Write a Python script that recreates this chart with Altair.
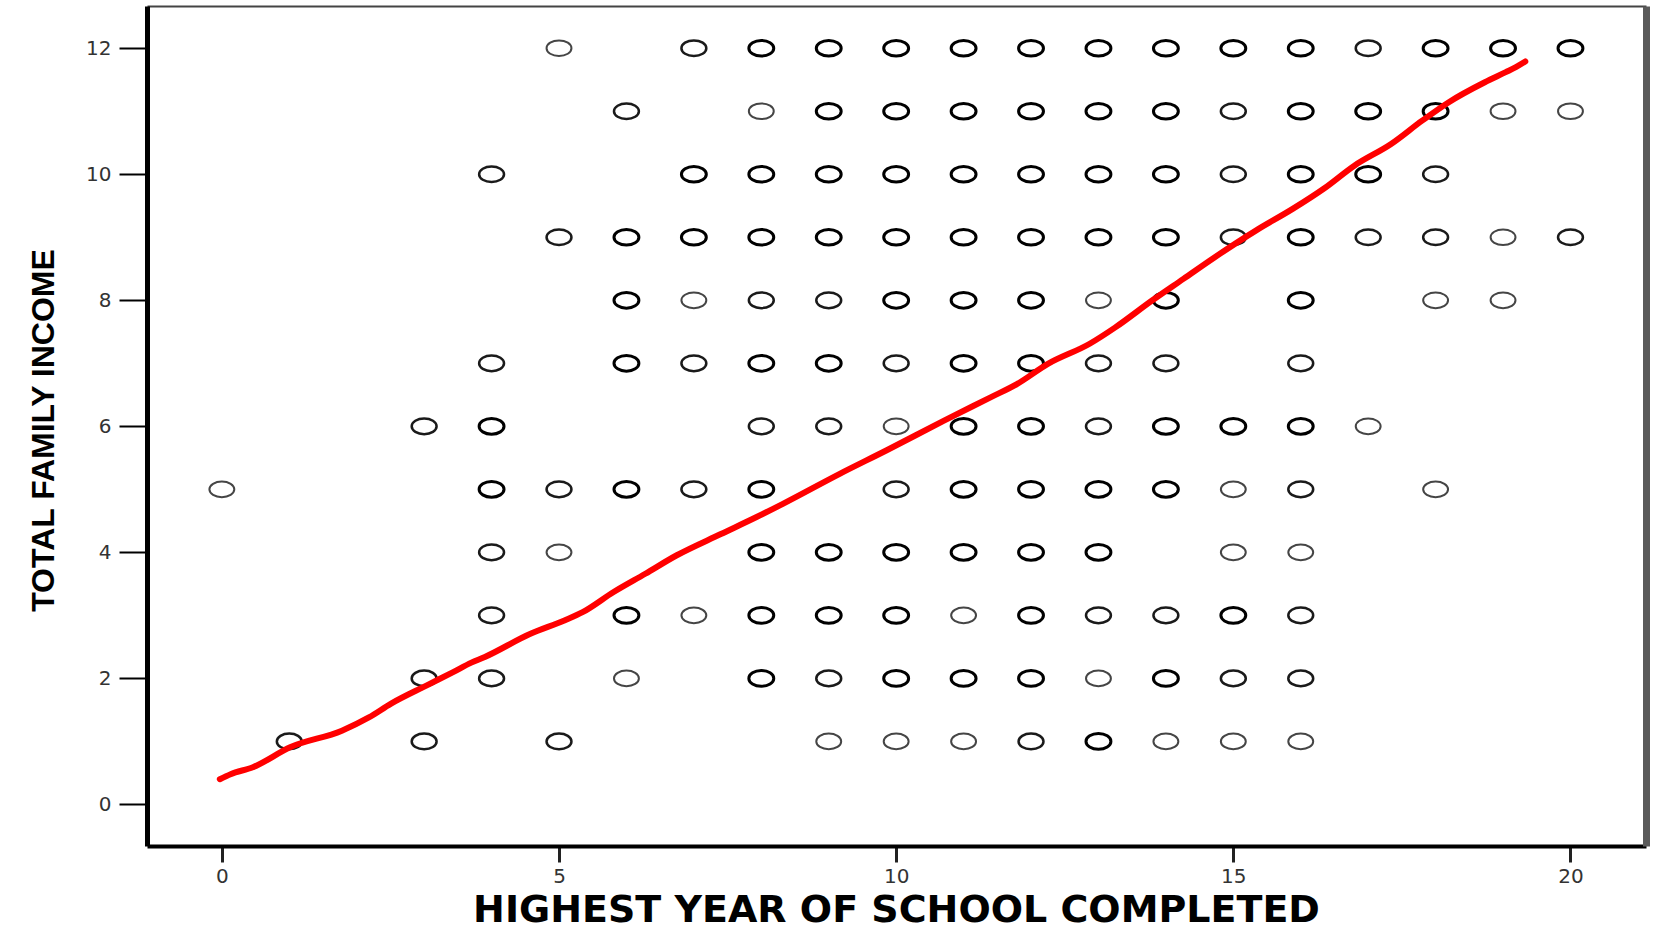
import altair as alt
import pandas as pd

# ---- scatter data: years of school (x) for each income level, and overplot weight (1 light, 2 medium, 3 bold)
income_12_years = [5, 7, 8, 9, 10, 11, 12, 13, 14, 15, 16, 17, 18, 19, 20]
income_12_weights = [1, 2, 3, 3, 3, 3, 3, 3, 3, 3, 3, 2, 3, 3, 3]
income_11_years = [6, 8, 9, 10, 11, 12, 13, 14, 15, 16, 17, 18, 19, 20]
income_11_weights = [2, 1, 3, 3, 3, 3, 3, 3, 2, 3, 3, 3, 1, 1]
income_10_years = [4, 7, 8, 9, 10, 11, 12, 13, 14, 15, 16, 17, 18]
income_10_weights = [2, 3, 3, 3, 3, 3, 3, 3, 3, 2, 3, 3, 2]
income_9_years = [5, 6, 7, 8, 9, 10, 11, 12, 13, 14, 15, 16, 17, 18, 19, 20]
income_9_weights = [2, 3, 3, 3, 3, 3, 3, 3, 3, 3, 2, 3, 2, 2, 1, 2]
income_8_years = [6, 7, 8, 9, 10, 11, 12, 13, 14, 16, 18, 19]
income_8_weights = [3, 1, 2, 2, 3, 3, 3, 1, 3, 3, 1, 1]
income_7_years = [4, 6, 7, 8, 9, 10, 11, 12, 13, 14, 16]
income_7_weights = [2, 3, 2, 3, 3, 2, 3, 3, 2, 2, 2]
income_6_years = [3, 4, 8, 9, 10, 11, 12, 13, 14, 15, 16, 17]
income_6_weights = [2, 3, 2, 2, 1, 3, 3, 2, 3, 3, 3, 1]
income_5_years = [0, 4, 5, 6, 7, 8, 10, 11, 12, 13, 14, 15, 16, 18]
income_5_weights = [1, 3, 2, 3, 2, 3, 2, 3, 3, 3, 3, 1, 2, 1]
income_4_years = [4, 5, 8, 9, 10, 11, 12, 13, 15, 16]
income_4_weights = [2, 1, 3, 3, 3, 3, 3, 3, 1, 1]
income_3_years = [4, 6, 7, 8, 9, 10, 11, 12, 13, 14, 15, 16]
income_3_weights = [2, 3, 1, 3, 3, 3, 1, 3, 2, 2, 3, 2]
income_2_years = [3, 4, 6, 8, 9, 10, 11, 12, 13, 14, 15, 16]
income_2_weights = [2, 2, 1, 3, 2, 3, 3, 3, 1, 3, 2, 2]
income_1_years = [1, 3, 5, 9, 10, 11, 12, 13, 14, 15, 16]
income_1_weights = [2, 2, 2, 1, 1, 1, 2, 3, 1, 1, 1]

# ---- red fit line
fit_x = [-0.03, 0.13, 0.46, 1.02, 1.78, 2.18, 2.51, 3.04, 3.43, 3.70, 3.90, 4.56, 5.08,
         5.35, 5.81, 6.28, 6.74, 7.40, 7.93, 8.32, 9.17, 9.86, 10.71, 11.40, 11.79,
         12.25, 12.87, 13.25, 13.80, 14.26, 14.72, 15.34, 15.88, 16.34, 16.80, 17.34,
         17.80, 18.19, 18.73, 19.04, 19.19, 19.33]
fit_y = [0.40, 0.48, 0.59, 0.91, 1.17, 1.38, 1.60, 1.89, 2.10, 2.25, 2.34, 2.70, 2.92,
         3.05, 3.37, 3.66, 3.95, 4.29, 4.56, 4.77, 5.25, 5.62, 6.09, 6.46, 6.67,
         6.99, 7.31, 7.57, 8.00, 8.34, 8.68, 9.11, 9.45, 9.77, 10.14, 10.48,
         10.85, 11.14, 11.46, 11.62, 11.70, 11.79]

x_ticks = [0, 5, 10, 15, 20]
y_ticks = [0, 2, 4, 6, 8, 10, 12]

rows = [
    (12, income_12_years, income_12_weights), (11, income_11_years, income_11_weights),
    (10, income_10_years, income_10_weights), (9, income_9_years, income_9_weights),
    (8, income_8_years, income_8_weights), (7, income_7_years, income_7_weights),
    (6, income_6_years, income_6_weights), (5, income_5_years, income_5_weights),
    (4, income_4_years, income_4_weights), (3, income_3_years, income_3_weights),
    (2, income_2_years, income_2_weights), (1, income_1_years, income_1_weights),
]
records = []
for inc, yrs, wts in rows:
    for xv, wv in zip(yrs, wts):
        records.append({"educ": xv, "income": inc, "weight": wv})
points_df = pd.DataFrame(records)
fit_df = pd.DataFrame({"educ": fit_x, "income": fit_y})

ellipse = ("M -1 0 C -1 -0.348 -0.552 -0.63 0 -0.63 C 0.552 -0.63 1 -0.348 1 0 "
           "C 1 0.348 0.552 0.63 0 0.63 C -0.552 0.63 -1 0.348 -1 0 Z")

x_scale = alt.Scale(domain=[-1.11, 21.12], nice=False, zero=False)
y_scale = alt.Scale(domain=[-0.66, 12.67], nice=False, zero=False)

label_font = "DejaVu Sans"

points = alt.Chart(points_df).mark_point(
    shape=ellipse, size=620, filled=False, opacity=1
).encode(
    x=alt.X("educ:Q", scale=x_scale,
            axis=alt.Axis(values=x_ticks, title="HIGHEST YEAR OF SCHOOL COMPLETED",
                          orient="bottom", grid=False,
                          domainColor="black", domainWidth=4,
                          tickColor="#222", tickWidth=3, tickSize=16,
                          labelFont=label_font, labelFontSize=20, labelColor="#333",
                          labelPadding=4,
                          titleFont="DejaVu Sans", titleFontSize=38, titleFontWeight="bold",
                          titleColor="black", titleBaseline="alphabetic",
                          titleX=749, titleY=75, titleAnchor="middle", titleAlign="center")),
    y=alt.Y("income:Q", scale=y_scale,
            axis=alt.Axis(values=y_ticks, title="TOTAL FAMILY INCOME",
                          orient="left", grid=False,
                          domainColor="black", domainWidth=5,
                          tickColor="black", tickWidth=2, tickSize=28,
                          labelFont=label_font, labelFontSize=20, labelColor="#333",
                          labelPadding=8,
                          titleFont="Liberation Sans", titleFontSize=32,
                          titleFontWeight="bold", titleColor="black",
                          titleBaseline="alphabetic", titleAngle=270,
                          titleX=-94, titleY=424, titleAlign="center")),
    color=alt.Color("weight:O", scale=alt.Scale(domain=[1, 2, 3], range=["#454545", "#1a1a1a", "#000000"]),
                    legend=None),
    strokeWidth=alt.StrokeWidth("weight:O", scale=alt.Scale(domain=[1, 2, 3], range=[2.0, 3.0, 4.2]),
                                legend=None),
)

fit = alt.Chart(fit_df).mark_line(
    color="#ff0000", strokeWidth=6, interpolate="monotone", strokeCap="round"
).encode(
    x=alt.X("educ:Q", scale=x_scale,
            axis=alt.Axis(orient="top", labels=False, ticks=False, title=None, grid=False,
                          domainColor="#444", domainWidth=2)),
    y=alt.Y("income:Q", scale=y_scale,
            axis=alt.Axis(orient="right", labels=False, ticks=False, title=None, grid=False,
                          domainColor="#5a5a5a", domainWidth=7)),
)

chart = alt.layer(points, fit).resolve_axis(
    x="independent", y="independent"
).properties(
    width=1499, height=840,
    autosize=alt.AutoSizeParams(type="none"),
    padding={"left": 147, "top": 6, "right": 8, "bottom": 83},
    background="white",
).configure_view(stroke=None)

chart.save("out.html", embed_options={"renderer": "svg", "actions": False})
